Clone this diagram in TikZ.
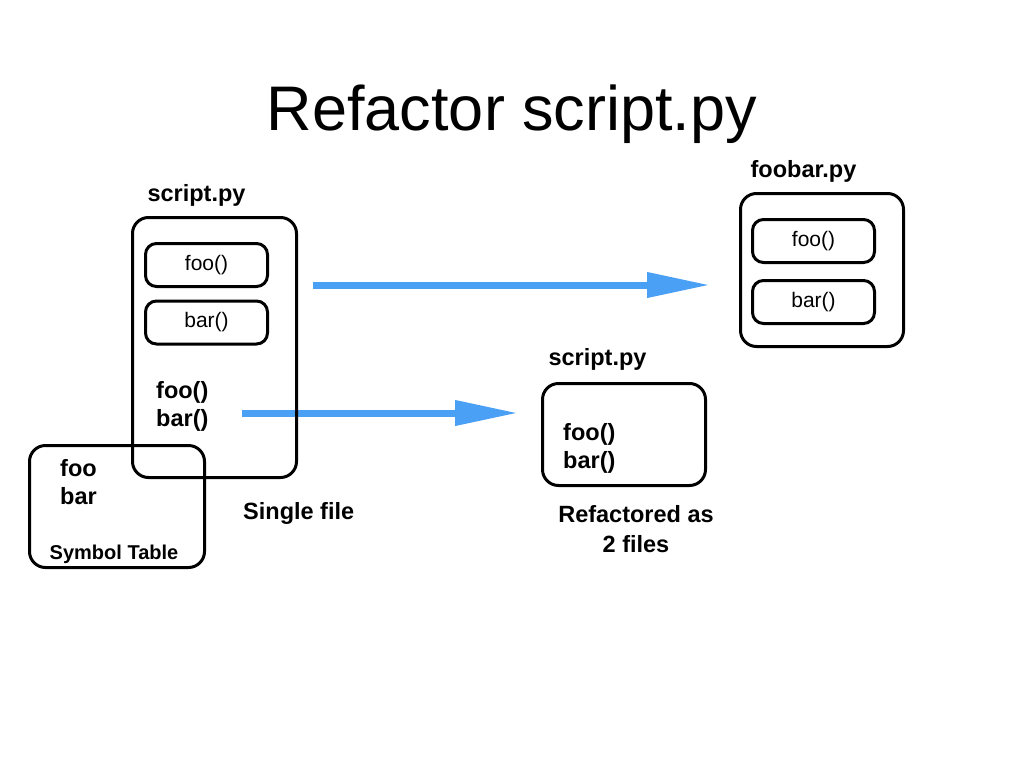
\documentclass[tikz,border=0pt]{standalone}
\usepackage{fontspec}
\setmainfont{Liberation Sans}
\usetikzlibrary{arrows.meta}
\definecolor{arrowblue}{RGB}{74,160,245}
\begin{document}
\begin{tikzpicture}[
    x=1pt, y=-1pt,
    filebox/.style={draw, line width=3pt, rounded corners=16pt, inner sep=0pt},
    funcbox/.style={draw, line width=3pt, rounded corners=11pt, inner sep=0pt,
                    minimum width=122pt, minimum height=43pt,
                    font=\fontsize{21}{25}\selectfont},
    lbl/.style={font=\fontsize{23.5}{28}\selectfont\bfseries, inner sep=0pt},
    small/.style={font=\fontsize{20}{24}\selectfont\bfseries, inner sep=0pt},
    flow/.style={arrowblue, line width=7pt, -{Triangle[length=63pt, width=24pt]}}
]
\useasboundingbox (0,0) rectangle (1024,768);

% ---------- title ----------
\node[font=\fontsize{63}{70}\selectfont, inner sep=0pt, anchor=base] (title) at (512,130) {Refactor script.py};

% ---------- arrow end points ----------
\coordinate (moveA) at (313,285);
\coordinate (moveB) at (710,285);
\coordinate (keepA) at (242,413);
\coordinate (keepB) at (518,413);

% ---------- arrows ----------
\draw[flow] (moveA) -- (moveB);
\draw[flow] (keepA) -- (keepB);

% ---------- single file ----------
\node[filebox, minimum width=164pt, minimum height=260pt] (single) at (214.5,347.5) {};
\node[lbl, anchor=base] (singlename) at (196.5,201) {script.py};
\node[funcbox] (singlefoo) at (206.5,265) {foo()};
\node[funcbox] (singlebar) at (206.5,322.5) {bar()};
\node[lbl, anchor=base west] (callfoo) at (156,398) {foo()};
\node[lbl, anchor=base west] (callbar) at (156,426) {bar()};
\node[lbl, anchor=base west] (singlecap) at (243,519) {Single file};

% ---------- symbol table ----------
\node[filebox, minimum width=175pt, minimum height=122pt] (symtab) at (117,506.5) {};
\node[lbl, anchor=base west] (symfoo) at (60,476) {foo};
\node[lbl, anchor=base west] (symbar) at (60,504) {bar};
\node[small, anchor=base] (symcap) at (114,559) {Symbol Table};

% ---------- foobar.py ----------
\node[filebox, minimum width=163pt, minimum height=153pt] (foobar) at (822,270) {};
\node[lbl, anchor=base] (foobarname) at (803.5,177) {foobar.py};
\node[funcbox] (foobarfoo) at (813.5,241) {foo()};
\node[funcbox] (foobarbar) at (813.5,302) {bar()};

% ---------- refactored script.py ----------
\node[filebox, minimum width=163pt, minimum height=102pt] (script) at (624,434.5) {};
\node[lbl, anchor=base] (scriptname) at (597.5,365) {script.py};
\node[lbl, anchor=base west] (scriptfoo) at (563,440) {foo()};
\node[lbl, anchor=base west] (scriptbar) at (563,468) {bar()};
\node[lbl, anchor=base, align=center] (scriptcap) at (636,522) {Refactored as};
\node[lbl, anchor=base] (scriptcap2) at (636,552) {2 files};

\end{tikzpicture}
\end{document}
